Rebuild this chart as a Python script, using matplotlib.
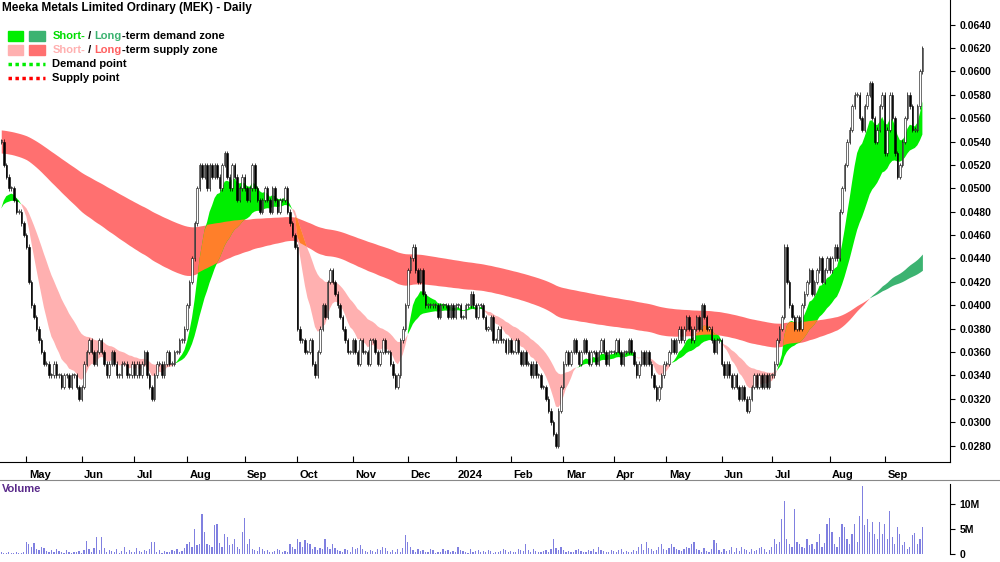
import matplotlib
matplotlib.use("Agg")
import matplotlib.pyplot as plt
import numpy as np
import pandas as pd
from matplotlib.patches import Rectangle

plt.rcParams['font.family'] = ['Liberation Sans', 'DejaVu Sans']

months = ["May", "Jun", "Jul", "Aug", "Sep", "Oct", "Nov", "Dec", "2024", "Feb", "Mar",
          "Apr", "May", "Jun", "Jul", "Aug", "Sep"]

# daily closes in thousandths of a dollar, grouped by month (Apr 2023 .. Sep 2024)
close_by_month = [
    [54,52,51,50,50,49,48,48,47,46],
    [45,42,40,39,38,37,36,35,35,34,34,35,34,34,33,34,34,33,34,34,33,32],
    [33,35,36,37,36,35,36,37,36,35,34,35,36,35,34,34,35,35,34,34,35],
    [34,35,34,35,36,34,33,32,34,35,35,34,35,36,35,35,36,36,37,37,38],
    [40,42,44,47,50,52,51,52,50,52,51,52,51,50,52,53,51,50,52,51,49,50,51],
    [50,49,50,52,50,49,48,49,50,49,48,50,49,48,49,49,50,48,47,46,45],
    [38,37,37,36,36,37,35,34,36,38,40,39,42,43,42,41,40,39,38,37,36,36],
    [37,36,35,37,36,36,35,37,37,36,35,36,37,36,36,35,34,33,34,37,38,40],
    [43,44,45,43,42,43,41,40,40,40,40,40,39,40,40,40,39,40,39],
    [40,40,39,39,40,40,41,40,39,40,40,39,38,38,39,37,37,38,37,37,36,37],
    [36,36,37,36,35,36,35,35,34,35,34,34,33,33,32,31,30,29,28,31,33],
    [35,36,35,36,37,36,35,36,37,36,35,36,36,35,36,37,36,35,36,36],
    [36,37,36,35,36,36,37,36,35,34,35,36,35,36,35,34,33,32,33,34,35],
    [35,36,37,36,37,38,37,38,39,38,37,38,39,38,40,39,38,38,37,36,37,37],
    [35,34,35,34,33,34,33,32,33,32,31,32,33,34,33,34,33,34,33,34],
    [34,35,37,38,39,45,42,40,39,38,39,38,40,41,42,43,41,42,43,44,42,43,44],
    [43,44,45,44,48,50,52,54,55,57,58,58,56,55,57,58,59,56,54,55,57,58],
    [53,55,58,56,53,51,52,54,56,58,57,55,55,57,60,62],
]

# daily volume in 100k shares
vol_by_month = [
    [5,3,2,4,3,2,5,3,2,4],
    [25,20,15,22,10,8,15,12,6,5,8,4,10,6,5,3,8,4,3,5,4,6],
    [3,8,26,10,5,12,35,8,34,12,5,8,6,4,10,3,6,15,5,8,4],
    [5,12,6,4,8,6,10,25,24,5,8,3,6,5,4,8,6,10,4,6,12],
    [20,25,15,50,18,20,80,45,20,18,15,58,60,22,15,40,35,18,20,30,15,10,45],
    [72,20,30,10,8,6,15,10,6,8,5,4,6,10,8,5,6,4,20,15,10],
    [30,25,15,28,22,20,10,15,8,12,10,30,15,10,20,12,8,6,5,10,8,4],
    [15,10,12,18,10,6,5,8,6,5,10,8,15,12,6,5,8,4,10,5,12,38],
    [25,15,8,5,10,6,8,4,5,10,8,3,4,5,10,6,8,5,6],
    [4,15,8,6,5,3,10,5,6,8,4,6,5,8,6,3,4,5,6,10,8,5],
    [6,4,5,10,8,6,20,8,5,10,6,4,5,6,8,5,10,30,12,8,15],
    [8,5,6,4,5,8,10,6,5,4,8,6,10,5,15,8,6,4,5,8],
    [6,4,8,10,5,6,4,5,8,6,15,20,8,25,12,10,6,8,15,20,10],
    [8,12,20,15,10,8,6,10,15,12,20,25,10,8,5,12,6,4,10,28,22,8],
    [5,10,6,8,15,5,12,6,15,10,8,5,10,6,8,12,15,10,5,8],
    [15,30,20,25,70,105,30,20,15,90,25,20,15,12,30,18,20,10,25,40,15,22,60],
    [72,45,20,15,35,60,55,30,20,40,60,25,75,135,58,70,45,65,40,30,65,40],
    [60,30,85,35,20,55,40,18,25,10,15,38,42,20,30,55],
]

# seeds for the moving averages (levels before the chart starts)
seed_st_fast, seed_st_slow = 0.047, 0.048
seed_lt_fast, seed_lt_slow = 0.053, 0.055

close = np.array([c for m in close_by_month for c in m], float) / 1000.0
vol = np.array([v for m in vol_by_month for v in m], float) * 1e5
n = min(len(close), len(vol))
close, vol = close[:n], vol[:n]
x = np.arange(n)
month_pos = np.cumsum([len(m) for m in close_by_month])[:-1]

def ema(span, seed):
    a = 2.0 / (span + 1)
    out = np.empty(n)
    v = seed
    for i in range(n):
        v = v + a * (close[i] - v)
        out[i] = v
    return out

st_f = ema(10, seed_st_fast)
st_s = ema(30, seed_st_slow)
lt_f = ema(150, seed_lt_fast)
lt_s = ema(250, seed_lt_slow)

fig = plt.figure(figsize=(10, 5.62), dpi=100)
ax = fig.add_axes([0.0, 0.178, 0.95, 0.822])
axv = fig.add_axes([0.0, 0.014, 0.95, 0.125])

def band(a, b, col_up, col_dn, z):
    lo, hi = np.minimum(a, b), np.maximum(a, b)
    up = a >= b
    ax.fill_between(x, lo, hi, where=up, color=col_up, lw=0, zorder=z, interpolate=True)
    ax.fill_between(x, lo, hi, where=~up, color=col_dn, lw=0, zorder=z, interpolate=True)
    return lo, hi

llo, lhi = band(lt_f, lt_s, '#3cb371', '#ff7070', 1)
slo, shi = band(st_f, st_s, '#00ee00', '#ffb0b0', 2)
olo, ohi = np.maximum(llo, slo), np.minimum(lhi, shi)
ax.fill_between(x, olo, ohi, where=ohi > olo, color='#ff7f2a', lw=0, zorder=3, interpolate=True)

prev = np.r_[close[0], close[:-1]]
for i in range(n):
    o, c = prev[i], close[i]
    lo, hi = min(o, c), max(o, c)
    h = max(hi - lo, 0.0001)
    face = 'black' if c < o else 'white'
    ax.vlines(x[i], lo - 0.0002, hi + 0.0002, color='black', lw=0.5, zorder=3.5)
    ax.add_patch(Rectangle((x[i] - 0.3, lo), 0.6, h, facecolor=face, edgecolor='black', lw=0.4, zorder=4))

ax.set_xlim(-0.5, 378)
ax.set_ylim(0.0266, 0.0661)
ax.yaxis.tick_right()
yt = np.arange(0.028, 0.06401, 0.002)
ax.set_yticks(yt)
ax.set_yticklabels([f"{v:.4f}" for v in yt], fontsize=7.5, fontweight='bold')
ax.set_xticks(month_pos)
ax.set_xticklabels([])
ax.tick_params(axis='x', direction='in', length=4)
for p, lab in zip(month_pos, months):
    ax.text(p + 1, -0.018, lab, transform=ax.get_xaxis_transform(), fontsize=8, fontweight='bold', ha='left', va='top')
for sp in ['top', 'left']:
    ax.spines[sp].set_visible(False)

ax.text(0.002, 0.995, "Meeka Metals Limited Ordinary (MEK) - Daily", transform=ax.transAxes,
        fontsize=8.5, fontweight='bold', va='top')
lx, ly = 0.008, 0.922
dy = 0.03
ax.add_patch(Rectangle((lx, ly - 0.011), 0.016, 0.022, transform=ax.transAxes, color='#00ee00'))
ax.add_patch(Rectangle((lx + 0.023, ly - 0.011), 0.016, 0.022, transform=ax.transAxes, color='#3cb371'))
ax.add_patch(Rectangle((lx, ly - dy - 0.011), 0.016, 0.022, transform=ax.transAxes, color='#ffb0b0'))
ax.add_patch(Rectangle((lx + 0.023, ly - dy - 0.011), 0.016, 0.022, transform=ax.transAxes, color='#ff7070'))
tx = 0.055
renderer = fig.canvas.get_renderer()
inv = ax.transAxes.inverted()
def segs(y, parts):
    xx = tx
    for t, c in parts:
        tt = ax.text(xx, y, t, transform=ax.transAxes, fontsize=8, fontweight='bold', color=c, va='center')
        bb = tt.get_window_extent(renderer)
        xx = inv.transform((bb.x1, bb.y0))[0]
segs(ly, [("Short-", '#00dd00'), ("\u00a0/\u00a0", 'black'), ("Long", '#3cb371'), ("-term demand zone", 'black')])
segs(ly - dy, [("Short-", '#ffb0b0'), ("\u00a0/\u00a0", 'black'), ("Long", '#ff6060'), ("-term supply zone", 'black')])
ax.plot([lx, lx + 0.039], [ly - 2 * dy, ly - 2 * dy], transform=ax.transAxes, color='#00ee00', ls=(0, (1, 1)), lw=2.5)
ax.plot([lx, lx + 0.039], [ly - 3 * dy, ly - 3 * dy], transform=ax.transAxes, color='#ff0000', ls=(0, (1, 1)), lw=2.5)
ax.text(tx, ly - 2 * dy, "Demand point", transform=ax.transAxes, fontsize=8, fontweight='bold', va='center')
ax.text(tx, ly - 3 * dy, "Supply point", transform=ax.transAxes, fontsize=8, fontweight='bold', va='center')

axv.bar(x, vol, width=0.5, color='#8080e0', lw=0)
axv.set_xlim(-0.5, 378)
axv.set_ylim(0, 14e6)
axv.yaxis.tick_right()
axv.set_yticks([0, 5e6, 10e6])
axv.set_yticklabels(["0", "5M", "10M"], fontsize=7.5, fontweight='bold')
axv.set_xticks([])
for sp in ['top', 'left', 'bottom']:
    axv.spines[sp].set_visible(False)
fig.text(0.002, 0.138, "Volume", fontsize=8, fontweight='bold', color='#5a2a8a', va='top')
fig.add_artist(plt.Line2D([0, 1], [0.146, 0.146], color='#888888', lw=0.8))

fig.savefig("out.png", dpi=100)
